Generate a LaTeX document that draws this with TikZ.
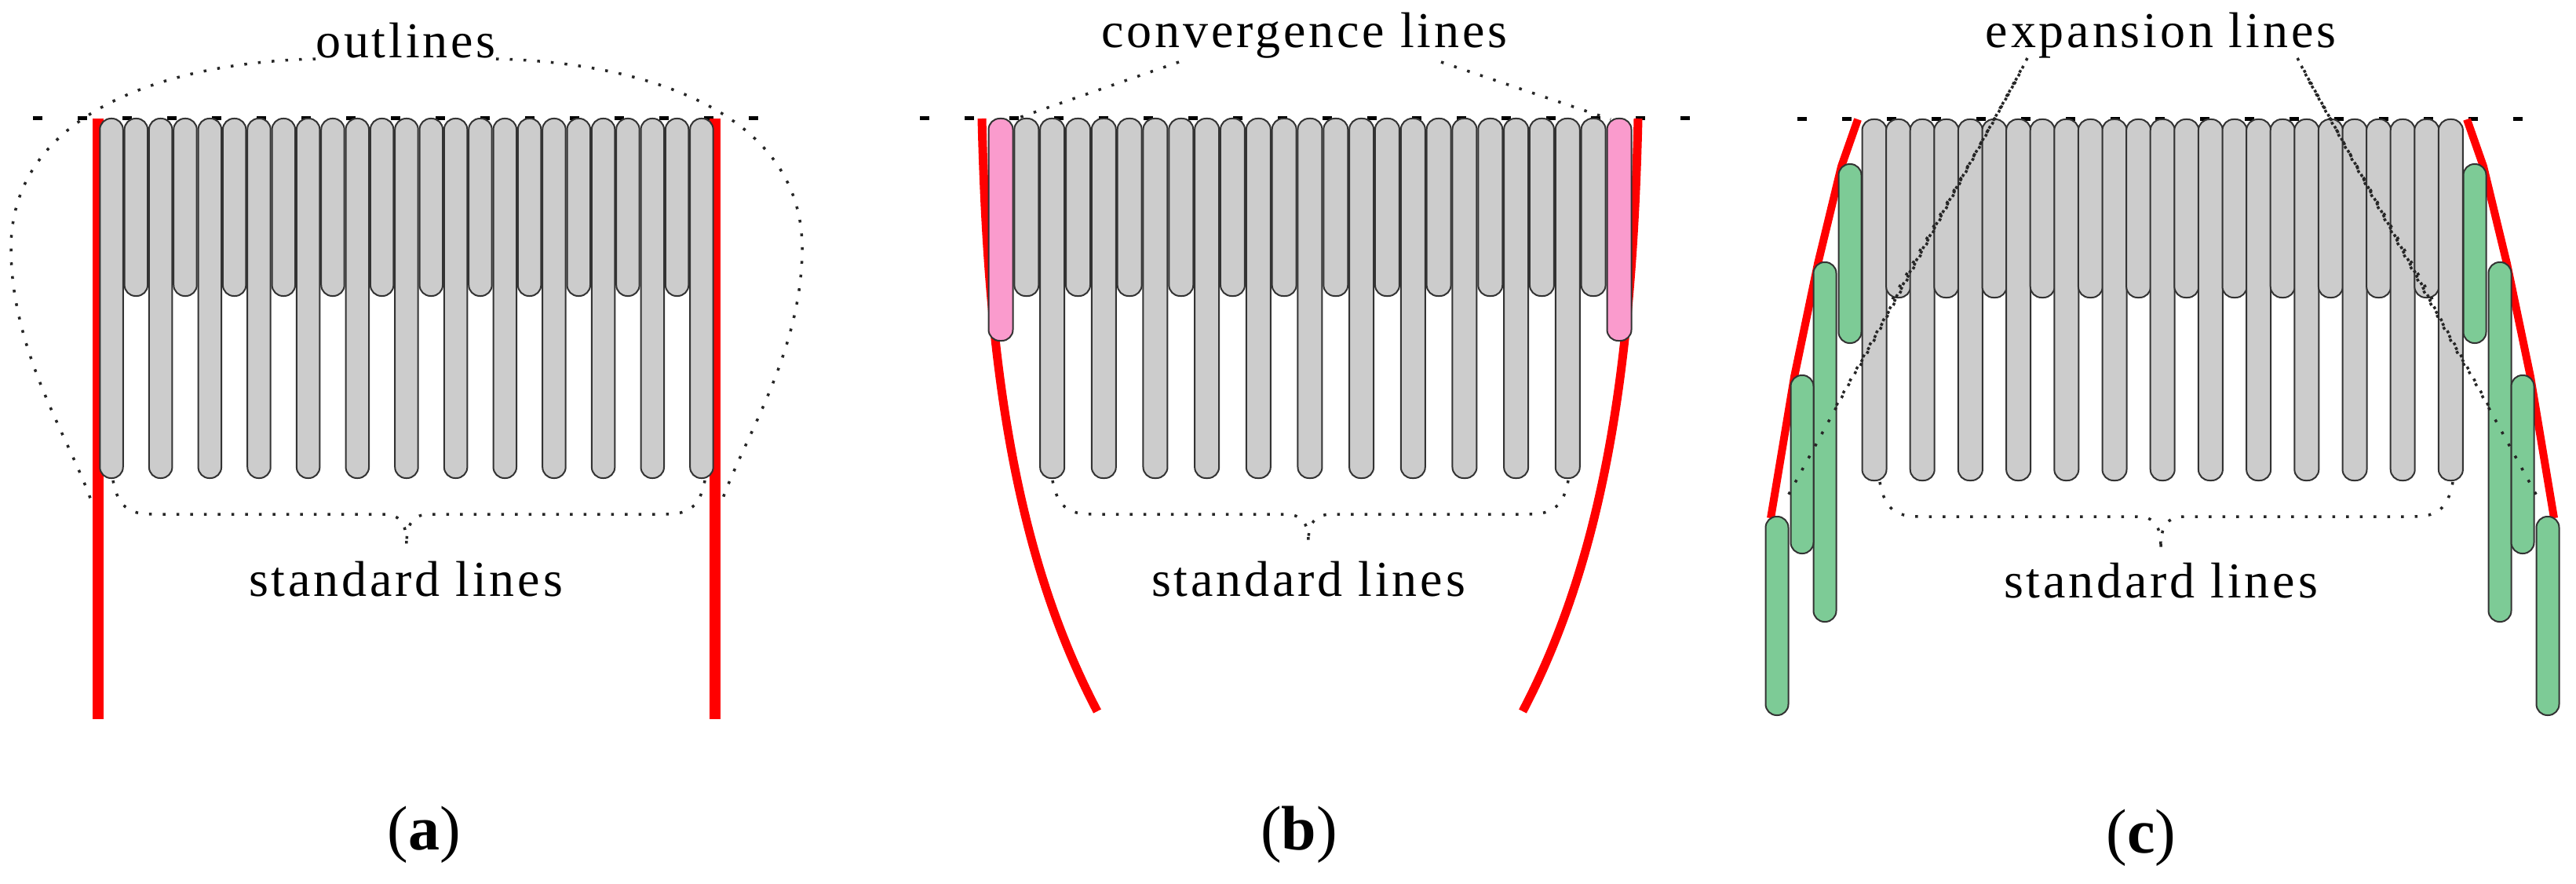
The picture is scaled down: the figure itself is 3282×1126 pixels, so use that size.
\documentclass[tikz,border=0pt]{standalone}
\usepackage{fontspec}
\setmainfont{Liberation Serif}
\newcommand\lblfont{\fontsize{64}{70}\selectfont\addfontfeature{LetterSpace=6}}
\newcommand\capfont{\fontsize{80}{90}\selectfont}
\newcommand\stick[5]{\draw[stick,fill=#5] (#1-#4/2,#2) rectangle (#1+#4/2,#3);}
\newcommand\brc[6]{% Lx Rx topy boty tipy cx
  \draw[dotl] (#1,#3) .. controls (#1+6,#4-10) and (#1+20,#4) .. (#1+50,#4) -- (#6-30,#4) .. controls (#6-8,#4) and (#6,#4+12) .. (#6,#5);
  \draw[dotl] (#2,#3) .. controls (#2-6,#4-10) and (#2-20,#4) .. (#2-50,#4) -- (#6+30,#4) .. controls (#6+8,#4) and (#6,#4+12) .. (#6,#5);}
\definecolor{gbar}{RGB}{204,204,204}
\definecolor{pbar}{RGB}{250,155,205}
\definecolor{ebar}{RGB}{125,203,150}
\definecolor{rline}{RGB}{255,0,0}
\begin{document}
\begin{tikzpicture}[x=1pt,y=-1pt,
  stick/.style={draw=black!80,line width=2pt,rounded corners=14pt},
  dotl/.style={black!85,line width=3.5pt,dash pattern=on 3.5pt off 14pt},
  base/.style={black,line width=5pt,dash pattern=on 12pt off 45pt},
  red/.style={rline,line width=12pt},
  lbl/.style={inner sep=0pt,font=\lblfont},
  captxt/.style={inner sep=0pt,font=\capfont}]
\useasboundingbox (0,0) rectangle (3282,1126);
% ---------------- (a)
\draw[base] (42,151) -- (975,151);
\draw[red,line width=14pt] (125,151) -- (125,916);
\draw[red,line width=14pt] (911,151) -- (911,916);
\foreach \i in {0,...,24}{
  \pgfmathsetmacro\cx{142+31.33*\i}
  \ifodd\i \stick{\cx}{151}{377}{29.5}{gbar}\else \stick{\cx}{151}{609}{29.5}{gbar}\fi}
\node[lbl] (ta) at (517,52) {outlines};
\draw[dotl] (402,75) .. controls (200,80) and (14,150) .. (14,316) .. controls (14,450) and (90,560) .. (118,643);
\draw[dotl] (632,75) .. controls (836,80) and (1022,150) .. (1022,316) .. controls (1022,450) and (946,560) .. (918,643);
\brc{144}{898}{612}{655}{693}{518}
\node[lbl] (sa) at (517,738) {standard lines};
\node[captxt] (ca) at (540,1063) {(\textbf{a})};
% ---------------- (b)
\draw[base] (1172,151) -- (2162,151);
\draw[red,line width=11pt] (1251,151) .. controls (1258,450) and (1290,700) .. (1398,906);
\draw[red,line width=11pt] (2087,151) .. controls (2080,450) and (2048,700) .. (1940,906);
\foreach \i in {1,...,23}{
  \pgfmathsetmacro\cx{1275+32.83*\i}
  \ifodd\i \stick{\cx}{151}{377}{31}{gbar}\else \stick{\cx}{151}{609}{31}{gbar}\fi}
\stick{1275}{151}{434}{31}{pbar}
\stick{2063}{151}{434}{31}{pbar}
\node[lbl] (tb) at (1662,45) {convergence lines};
\draw[dotl] (1502,79) -- (1292,152);
\draw[dotl] (1836,79) -- (2052,152);
\brc{1341}{1998}{612}{655}{689}{1667}
\node[lbl] (sb) at (1667,738) {standard lines};
\node[captxt] (cb) at (1655,1063) {(\textbf{b})};
% ---------------- (c)
\draw[base] (2290,152) -- (3215,152);
\draw[red,line width=10pt] (2367,152) -- (2346,212) -- (2316,336) -- (2286,480) -- (2256,660);
\draw[red,line width=10pt] (3143,152) -- (3164,212) -- (3194,336) -- (3224,480) -- (3254,660);
\foreach \i in {0,...,24}{
  \pgfmathsetmacro\cx{2388+30.6*\i}
  \ifodd\i \stick{\cx}{152}{379}{31}{gbar}\else \stick{\cx}{152}{612}{31}{gbar}\fi}
\stick{2357}{209}{437}{29}{ebar}
\stick{2325}{334}{792}{29}{ebar}
\stick{2296}{478}{705}{29}{ebar}
\stick{2264}{658}{911}{29}{ebar}
\stick{3153}{209}{437}{29}{ebar}
\stick{3185}{334}{792}{29}{ebar}
\stick{3214}{478}{705}{29}{ebar}
\stick{3246}{658}{911}{29}{ebar}
\node[lbl] (tc) at (2753,45) {expansion lines};
\draw[dotl] (2583,74) -- (2276,635);
\draw[dotl] (2578,84) -- (2336,523);
\draw[dotl] (2573,94) -- (2370,466);
\draw[dotl] (2568,104) -- (2410,383);
\draw[dotl] (2927,74) -- (3234,635);
\draw[dotl] (2932,84) -- (3174,523);
\draw[dotl] (2937,94) -- (3140,466);
\draw[dotl] (2942,104) -- (3100,383);
\brc{2395}{3125}{614}{658}{697}{2753}
\node[lbl] (sc) at (2753,740) {standard lines};
\node[captxt] (cc) at (2728,1067) {(\textbf{c})};
\end{tikzpicture}
\end{document}
